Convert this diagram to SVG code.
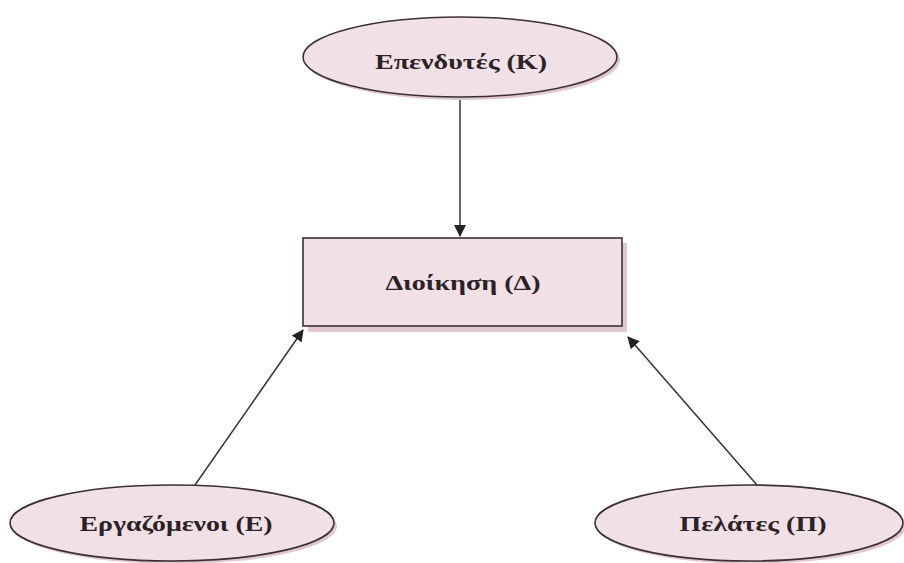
<svg xmlns="http://www.w3.org/2000/svg" width="904" height="563" viewBox="0 0 904 563">
<defs>
<marker id="ah" markerWidth="12" markerHeight="12" refX="11" refY="6" orient="auto" markerUnits="userSpaceOnUse" viewBox="0 0 12 12">
<path d="M0,0 L12,6 L0,12 z" fill="#222"/>
</marker>
<style>
.shape{fill:#f1e0e5;stroke:#3a3035;stroke-width:1.6}
.shadow{fill:#e2c6d0}
.lbl{font-family:"Liberation Serif","DejaVu Serif",serif;font-weight:bold;font-size:21px;fill:#2a2226;text-anchor:middle}
.conn{stroke:#333;stroke-width:1.5;fill:none;marker-end:url(#ah)}
</style>
</defs>
<rect width="904" height="563" fill="#ffffff"/>
<g id="connectors">
<line class="conn" x1="460" y1="98" x2="460" y2="236"/>
<line class="conn" x1="195" y1="485" x2="303" y2="330"/>
<line class="conn" x1="757" y1="485" x2="628" y2="337"/>
</g>
<g id="investors">
<ellipse class="shadow" cx="463" cy="60" rx="157" ry="40"/>
<ellipse class="shape" cx="460" cy="57" rx="157" ry="40"/>
<text class="lbl" x="461" y="69" textLength="172" lengthAdjust="spacingAndGlyphs">Επενδυτές (Κ)</text>
</g>
<g id="management">
<rect class="shadow" x="308" y="243" width="319" height="89"/>
<rect class="shape" x="303" y="238" width="319" height="88"/>
<text class="lbl" x="463" y="290" textLength="155" lengthAdjust="spacingAndGlyphs">Διοίκηση (Δ)</text>
</g>
<g id="employees">
<ellipse class="shadow" cx="175" cy="526" rx="162" ry="38"/>
<ellipse class="shape" cx="172" cy="523" rx="162" ry="38"/>
<text class="lbl" x="176" y="531" textLength="193" lengthAdjust="spacingAndGlyphs">Εργαζόμενοι (Ε)</text>
</g>
<g id="customers">
<ellipse class="shadow" cx="752" cy="526" rx="154" ry="38"/>
<ellipse class="shape" cx="749" cy="523" rx="154" ry="38"/>
<text class="lbl" x="753" y="531" textLength="147" lengthAdjust="spacingAndGlyphs">Πελάτες (Π)</text>
</g>
</svg>
